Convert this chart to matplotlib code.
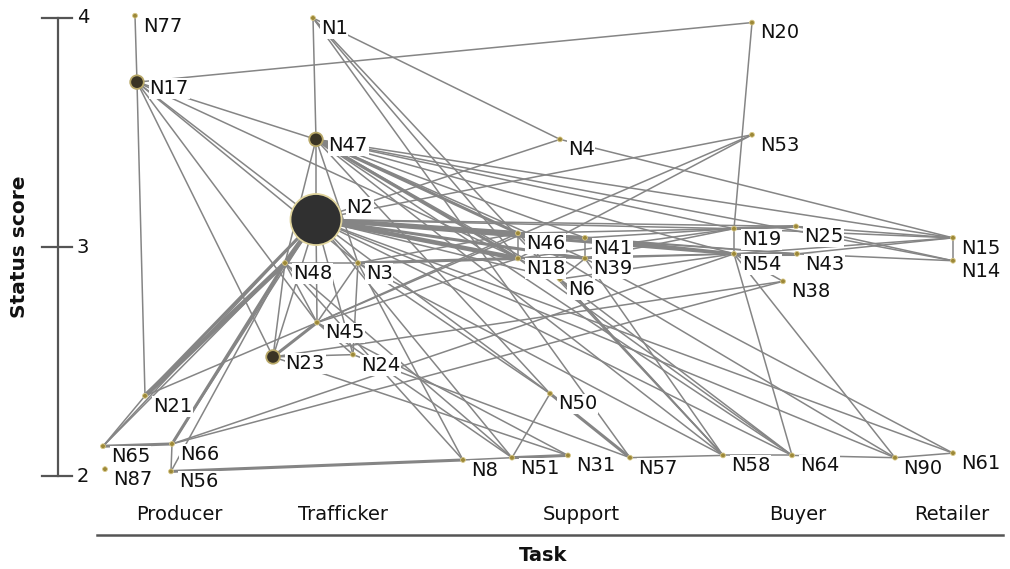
import matplotlib
matplotlib.use('Agg')
import matplotlib.pyplot as plt

plt.rcParams['font.family'] = ['DejaVu Sans']

# node data: name, task position (x), status score (y), node weight
names = ['N77', 'N17', 'N1', 'N20', 'N47', 'N4', 'N53', 'N2', 'N19', 'N25',
         'N46', 'N41', 'N15', 'N54', 'N43', 'N18', 'N39', 'N14', 'N48', 'N3',
         'N6', 'N38', 'N45', 'N24', 'N23', 'N21', 'N50', 'N66', 'N65', 'N61',
         'N31', 'N58', 'N64', 'N57', 'N90', 'N51', 'N8', 'N87', 'N56']
task_pos = [1.35, 1.37, 3.13, 7.52, 3.16, 5.60, 7.52, 3.16, 7.34, 7.96,
            5.18, 5.85, 9.53, 7.34, 7.97, 5.18, 5.85, 9.53, 2.85, 3.58,
            5.60, 7.83, 3.17, 3.53, 2.73, 1.45, 5.50, 1.72, 1.03, 9.53,
            5.68, 7.23, 7.92, 6.30, 8.95, 5.12, 4.63, 1.05, 1.71]
status = [4.01, 3.72, 4.00, 3.98, 3.47, 3.47, 3.49, 3.12, 3.08, 3.09,
          3.06, 3.04, 3.04, 2.97, 2.97, 2.95, 2.95, 2.94, 2.93, 2.93,
          2.86, 2.85, 2.67, 2.53, 2.52, 2.35, 2.36, 2.14, 2.13, 2.10,
          2.09, 2.09, 2.09, 2.08, 2.08, 2.08, 2.07, 2.03, 2.02]
weight = [1, 2, 1, 1, 2, 1, 1, 3, 1, 1,
          1, 1, 1, 1, 1, 1, 1, 1, 1, 1,
          1, 1, 1, 1, 2, 1, 1, 1, 1, 1,
          1, 1, 1, 1, 1, 1, 1, 1, 1]

# ties: (from, to, number of ties)
edges = [
    ('N77', 'N17', 1), ('N17', 'N20', 1), ('N17', 'N47', 1), ('N17', 'N21', 1),
    ('N17', 'N2', 1), ('N17', 'N23', 1), ('N17', 'N45', 1), ('N17', 'N18', 1),
    ('N17', 'N3', 1), ('N1', 'N47', 1), ('N47', 'N2', 1), ('N1', 'N4', 1),
    ('N1', 'N58', 1), ('N1', 'N18', 1), ('N1', 'N57', 1),
    ('N47', 'N15', 1), ('N47', 'N14', 1), ('N47', 'N19', 1), ('N47', 'N54', 1),
    ('N47', 'N46', 2), ('N47', 'N18', 2), ('N47', 'N41', 1), ('N47', 'N39', 1),
    ('N47', 'N6', 1), ('N47', 'N64', 1), ('N47', 'N58', 1), ('N47', 'N3', 1),
    ('N47', 'N48', 1), ('N47', 'N50', 1),
    ('N2', 'N46', 3), ('N2', 'N18', 3), ('N2', 'N41', 2), ('N2', 'N39', 2),
    ('N2', 'N19', 1), ('N2', 'N54', 2), ('N2', 'N25', 1), ('N2', 'N43', 1),
    ('N2', 'N48', 3), ('N2', 'N3', 1), ('N2', 'N45', 1), ('N2', 'N23', 1),
    ('N2', 'N24', 1), ('N2', 'N21', 2), ('N2', 'N65', 1), ('N2', 'N66', 1),
    ('N2', 'N53', 1), ('N2', 'N4', 1), ('N2', 'N50', 1), ('N2', 'N51', 1),
    ('N2', 'N61', 1), ('N2', 'N90', 1), ('N2', 'N6', 1), ('N2', 'N64', 1),
    ('N3', 'N18', 2), ('N3', 'N46', 1), ('N3', 'N48', 1), ('N3', 'N45', 1),
    ('N3', 'N24', 1), ('N3', 'N50', 1), ('N3', 'N58', 1), ('N3', 'N8', 1),
    ('N48', 'N21', 3), ('N48', 'N65', 1), ('N48', 'N66', 2), ('N48', 'N45', 1),
    ('N48', 'N23', 1), ('N48', 'N8', 1), ('N48', 'N51', 1), ('N48', 'N56', 1),
    ('N45', 'N21', 1), ('N45', 'N23', 2), ('N45', 'N24', 1), ('N45', 'N46', 1),
    ('N45', 'N18', 1), ('N45', 'N31', 1), ('N45', 'N53', 1), ('N45', 'N51', 1),
    ('N23', 'N24', 1), ('N23', 'N31', 1), ('N23', 'N38', 1), ('N24', 'N57', 1),
    ('N21', 'N65', 1), ('N65', 'N66', 2), ('N56', 'N66', 1), ('N56', 'N8', 2),
    ('N66', 'N38', 1), ('N66', 'N54', 1),
    ('N8', 'N51', 1), ('N51', 'N31', 2), ('N57', 'N58', 1), ('N58', 'N64', 1),
    ('N64', 'N90', 1), ('N90', 'N61', 1), ('N50', 'N51', 1), ('N50', 'N57', 2),
    ('N39', 'N58', 1), ('N46', 'N58', 1), ('N6', 'N64', 1), ('N54', 'N64', 1),
    ('N18', 'N64', 1), ('N54', 'N90', 1), ('N46', 'N90', 1), ('N39', 'N61', 1),
    ('N6', 'N58', 1),
    ('N19', 'N25', 2), ('N19', 'N54', 1), ('N54', 'N43', 2), ('N25', 'N15', 1),
    ('N25', 'N14', 1), ('N43', 'N14', 1), ('N43', 'N15', 1), ('N19', 'N15', 1),
    ('N54', 'N15', 1), ('N15', 'N14', 1), ('N54', 'N38', 1), ('N20', 'N19', 1),
    ('N4', 'N15', 1), ('N46', 'N19', 1), ('N46', 'N54', 1), ('N41', 'N19', 1),
    ('N41', 'N54', 2), ('N41', 'N43', 1), ('N39', 'N54', 1), ('N39', 'N19', 1),
    ('N18', 'N54', 1), ('N18', 'N19', 1), ('N46', 'N41', 2), ('N46', 'N18', 1),
    ('N18', 'N39', 1), ('N41', 'N39', 1), ('N6', 'N18', 1), ('N6', 'N39', 1),
    ('N6', 'N54', 1), ('N53', 'N18', 1),
]

categories = ['Producer', 'Trafficker', 'Support', 'Buyer', 'Retailer']
category_pos = [1.79, 3.43, 5.81, 7.98, 9.52]
status_ticks = [2, 3, 4]

pos = {n: (x, y) for n, x, y in zip(names, task_pos, status)}

fig = plt.figure(figsize=(10.1, 5.69), dpi=100)
ax = fig.add_axes([0, 0, 1, 1])
ax.set_xlim(0, 10.1)
ax.set_ylim(1.5939, 4.0786)
ax.axis('off')

edge_col = '#858585'
for a, b, w in edges:
    (x0, y0), (x1, y1) = pos[a], pos[b]
    ax.plot([x0, x1], [y0, y1], color=edge_col, lw=1.1 * w,
            solid_capstyle='butt', zorder=1)

# nodes
size_map = {1: 12, 2: 95, 3: 1350}
face_map = {1: '#9c8838', 2: '#3a3424', 3: '#303030'}
edge_map = {1: '#d8c888', 2: '#b8a868', 3: '#e0d49c'}
ax.scatter(task_pos, status, s=[size_map[w] for w in weight],
           c=[face_map[w] for w in weight],
           edgecolors=[edge_map[w] for w in weight],
           linewidths=[0.6 if w == 1 else 1.3 for w in weight], zorder=3)

offset_map = {1: (5.5, -7.5), 2: (9, -4.5), 3: (22, 9)}
for n, x, y, w in zip(names, task_pos, status, weight):
    ax.annotate(n, (x, y), xytext=offset_map[w], textcoords='offset points',
                ha='left', va='center', fontsize=14, color='#111111',
                bbox=dict(boxstyle='square,pad=0.05', fc='white', ec='none'),
                zorder=4)

# status score axis
axis_col = '#555555'
ax.plot([0.58, 0.58], [2, 4], color=axis_col, lw=1.6, zorder=2)
for t in status_ticks:
    ax.plot([0.42, 0.72], [t, t], color=axis_col, lw=1.6, zorder=2)
    ax.text(0.77, t, str(t), ha='left', va='center', fontsize=14,
            color='#111111')
ax.text(0.20, 3.0, 'Status score', rotation=90, ha='center', va='center',
        fontsize=14.5, fontweight='bold', color='#111111')

# task axis
for c, x in zip(categories, category_pos):
    ax.text(x, 1.83, c, ha='center', va='center', fontsize=14,
            color='#111111')
ax.plot([0.97, 10.03], [1.742, 1.742], color=axis_col, lw=1.8)
ax.text(5.43, 1.655, 'Task', ha='center', va='center', fontsize=14,
        fontweight='bold', color='#111111')

fig.savefig('out.png', dpi=100)
plt.close(fig)
